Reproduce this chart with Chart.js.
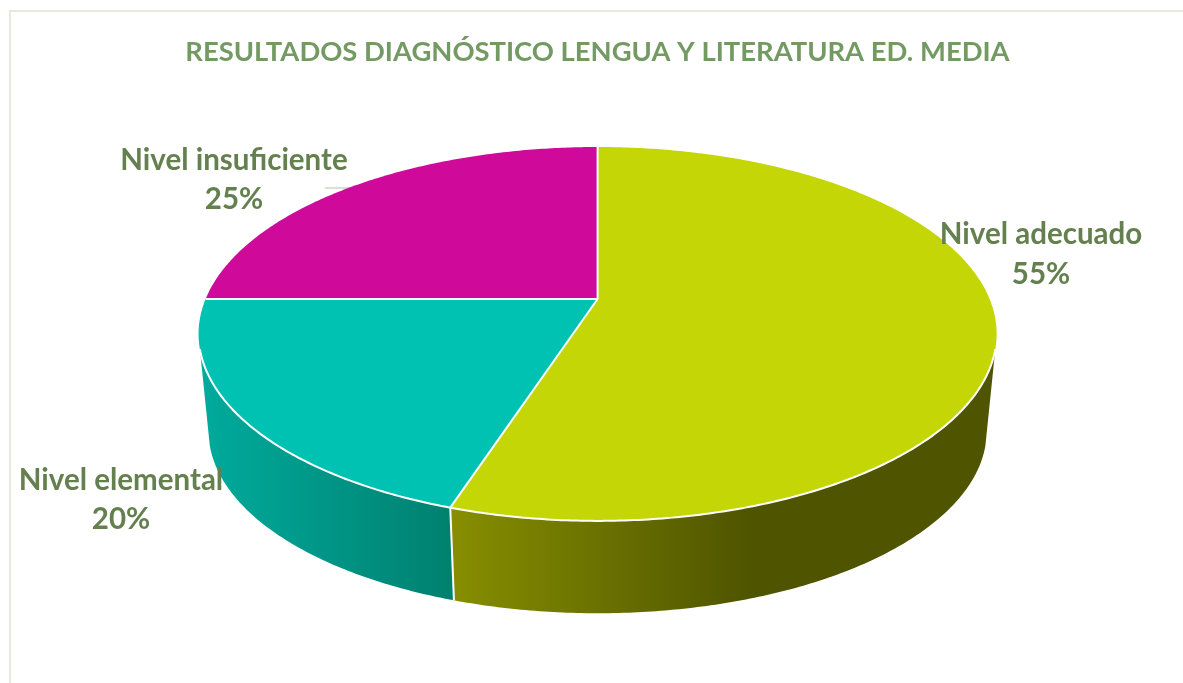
<!DOCTYPE html>
<html>
<head>
<meta charset="utf-8">
<script src="https://cdn.jsdelivr.net/npm/chart.js@4"></script>
<style>
html,body{margin:0;padding:0;background:#fff;width:1183px;height:683px;overflow:hidden}
#frame{position:absolute;left:9px;top:10px;right:0;bottom:0;border-left:2px solid #e4eade;border-top:2px solid #e4eade}
canvas{position:absolute;left:0;top:0}
</style>
</head>
<body>
<div id="frame"></div>
<canvas id="c" width="1183" height="683"></canvas>
<script>
const categories = ['Nivel adecuado', 'Nivel elemental', 'Nivel insuficiente'];
const values = [55, 20, 25];
const topColors = ['#c4d605', '#00c2b2', '#cf0a9b'];
const sideStops = [
  ['#868e00', '#4f5400'],
  ['#00aa9c', '#00806f'],
  ['#cf0a9b', '#cf0a9b']
];

const view = { cx: 597.6, cy: 299, a: 392, b: 180.4, k: -0.187, ellipseY: 334, lowY: 431, lowScale: 0.975 };
const sideGradientX = [[454, 750], [205, 454], [0, 1]];
const labelAnchors = [[1041, 244, 284], [121, 490, 529], [234, 170, 209]];
const labelColor = '#64804f';
const labelFont = 'bold 29.5px Lato';

function topPoint(t) {
  const u = Math.sin(t), v = -Math.cos(t), d = 1 + view.k * v;
  return [view.cx + view.a * u / d, view.cy + view.b * v / d];
}
function lowPoint(t) {
  const p = topPoint(t);
  return [view.cx + view.lowScale * (p[0] - view.cx), view.lowY + view.lowScale * (p[1] - view.ellipseY)];
}
function sweep(ctx, fn, from, to) {
  const n = Math.max(2, Math.ceil(Math.abs(to - from) / 0.01));
  for (let i = 0; i <= n; i++) {
    const p = fn(from + (to - from) * i / n);
    ctx.lineTo(p[0], p[1]);
  }
}

const pie3d = {
  id: 'pie3d',
  beforeDatasetDraw(chart, args) {
    const ctx = chart.ctx;
    const arcs = chart.getDatasetMeta(args.index).data;
    const H = Math.PI / 2;
    const span = arcs.map(a => [a.startAngle + H, a.endAngle + H]);
    const wallFrom = H * 1.17, wallTo = H * 2.83;

    ctx.save();
    // leader line
    ctx.strokeStyle = '#bccfb2';
    ctx.lineWidth = 1.2;
    ctx.beginPath(); ctx.moveTo(325, 188); ctx.lineTo(354, 188); ctx.stroke();

    // side wall: closing edges run along the silhouette tangents
    span.forEach((s, i) => {
      const from = Math.max(s[0], wallFrom), to = Math.min(s[1], wallTo);
      if (to <= from) return;
      const g = ctx.createLinearGradient(sideGradientX[i][0], 0, sideGradientX[i][1], 0);
      g.addColorStop(0, sideStops[i][0]);
      g.addColorStop(1, sideStops[i][1]);
      ctx.fillStyle = g;
      ctx.beginPath();
      sweep(ctx, topPoint, from, to);
      sweep(ctx, lowPoint, to, from);
      ctx.closePath();
      ctx.fill();
    });

    // top faces
    span.forEach((s, i) => {
      ctx.fillStyle = topColors[i];
      ctx.beginPath();
      ctx.moveTo(view.cx, view.cy);
      sweep(ctx, topPoint, s[0], s[1]);
      ctx.closePath();
      ctx.fill();
    });

    // white separators
    ctx.strokeStyle = '#ffffff';
    ctx.lineWidth = 2;
    ctx.lineJoin = 'round';
    span.forEach(s => {
      const p = topPoint(s[0]);
      ctx.beginPath(); ctx.moveTo(view.cx, view.cy); ctx.lineTo(p[0], p[1]); ctx.stroke();
      const from = Math.max(s[0], wallFrom), to = Math.min(s[1], wallTo);
      if (to > from) {
        ctx.beginPath();
        sweep(ctx, topPoint, from, to);
        ctx.stroke();
      }
      if (s[0] > H && s[0] < 3 * H) {
        const l = lowPoint(s[0]);
        ctx.beginPath(); ctx.moveTo(p[0], p[1]); ctx.lineTo(l[0], l[1]); ctx.stroke();
      }
    });
    ctx.restore();
    return false;
  },
  afterDatasetsDraw(chart) {
    const ctx = chart.ctx;
    const data = chart.data.datasets[0].data;
    const total = data.reduce((a, b) => a + b, 0);
    ctx.save();
    ctx.fillStyle = labelColor;
    ctx.font = labelFont;
    ctx.textAlign = 'center';
    ctx.textBaseline = 'alphabetic';
    chart.data.labels.forEach((name, i) => {
      const a = labelAnchors[i];
      ctx.fillText(name, a[0], a[1]);
      ctx.fillText(Math.round(data[i] / total * 100) + '%', a[0], a[2]);
    });
    ctx.restore();
  }
};

new Chart(document.getElementById('c'), {
  type: 'pie',
  data: {
    labels: categories,
    datasets: [{ data: values, backgroundColor: topColors }]
  },
  options: {
    responsive: false,
    animation: false,
    events: [],
    layout: { padding: { left: 12 } },
    plugins: {
      legend: { display: false },
      tooltip: { enabled: false },
      title: {
        display: true,
        text: 'RESULTADOS DIAGNÓSTICO LENGUA Y LITERATURA ED. MEDIA',
        color: '#739a62',
        font: { family: 'Lato', weight: 'bold', size: 27.4 },
        padding: { top: 36, bottom: 10 }
      }
    }
  },
  plugins: [pie3d]
});
</script>
</body>
</html>
